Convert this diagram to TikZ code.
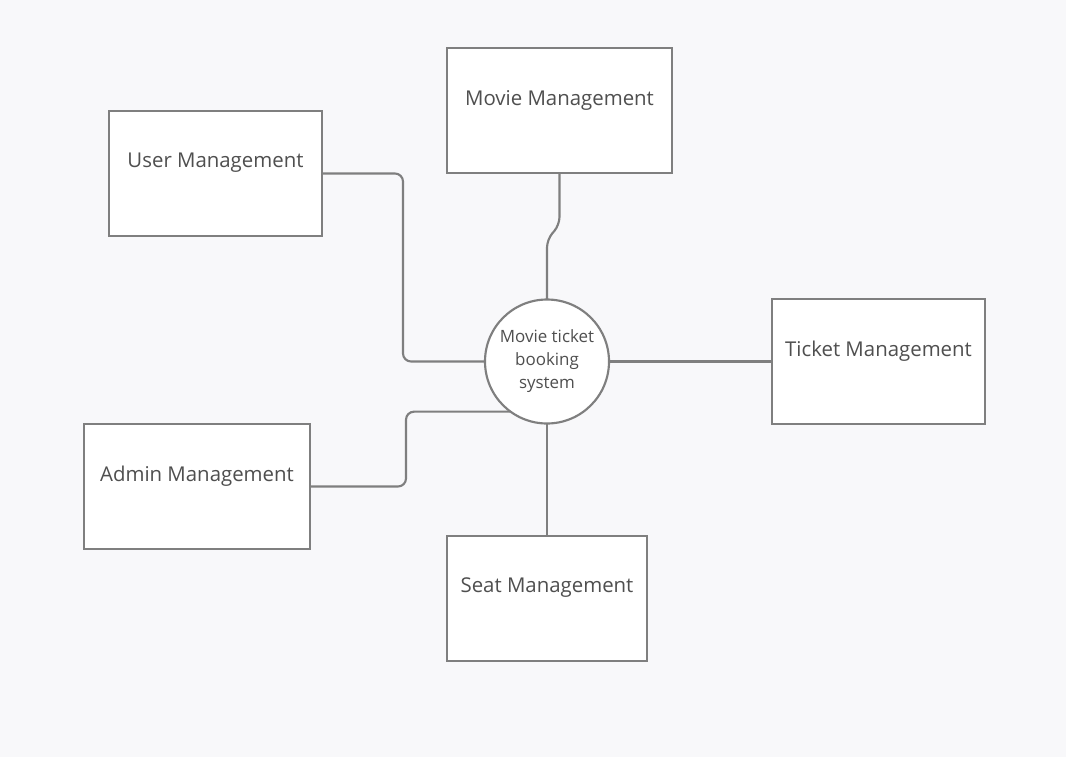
\documentclass[tikz,border=0pt]{standalone}
\usepackage{fontspec}
\setmainfont{Open Sans}
\usepackage{tikz}
\usetikzlibrary{calc}
\definecolor{bggray}{HTML}{F8F8FA}
\definecolor{linegray}{HTML}{7F7F7F}
\definecolor{txtgray}{HTML}{4F4F4F}

\begin{document}
\begin{tikzpicture}[x=0.75pt, y=-0.75pt,
    box/.style={draw=linegray, fill=white, line width=1.6pt, anchor=north west,
        minimum height=93.75pt, inner sep=0pt, outer sep=0pt},
    lbl/.style={text=txtgray, font=\fontsize{15.3}{18}\selectfont, inner sep=0pt},
    hubstyle/.style={circle, draw=linegray, fill=white, line width=1.6pt,
        minimum size=93pt, inner sep=0pt, outer sep=0pt, align=center, text=txtgray,
        font=\fontsize{12.7}{17.25}\selectfont},
    conn/.style={draw=linegray, line width=1.6pt, rounded corners=6pt}]

    \fill[bggray] (0,0) rectangle (1066,757);
    \useasboundingbox (0,0) rectangle (1066,757);

    \node[box, minimum width=159.75pt] (user) at (109,111) {};
    \node[box, minimum width=168.75pt] (movie) at (447,48) {};
    \node[box, minimum width=159.75pt] (ticket) at (772,299) {};
    \node[box, minimum width=169.5pt] (admin) at (84,424) {};
    \node[box, minimum width=150pt] (seat) at (447,536) {};

    \node[lbl] (usertxt) at ($(user.north)+(0,52)$) {User Management};
    \node[lbl] (movietxt) at ($(movie.north)+(0,52)$) {Movie Management};
    \node[lbl] (tickettxt) at ($(ticket.north)+(0,52)$) {Ticket Management};
    \node[lbl] (admintxt) at ($(admin.north)+(0,52)$) {Admin Management};
    \node[lbl] (seattxt) at ($(seat.north)+(0,52)$) {Seat Management};

    \node[hubstyle] (hub) at (547,361.5) {Movie ticket\\booking\\system};

    \coordinate (ubend) at (403,300);
    \coordinate (abend) at (406,450);
    \coordinate (m1) at ($(movie.south)+(0,52)$);
    \coordinate (m2) at ($(hub.north)+(0,-60)$);

    \draw[conn] (user.east) -| (ubend) |- (hub.west);
    \draw[conn] (movie.south) -- (m1) -- (m2) -- (hub.north);
    \draw[conn] (hub.east) -- (ticket.west);
    \draw[conn] (admin.east) -| (abend) |- (hub.234);
    \draw[conn] (hub.south) -- (seat.north);
\end{tikzpicture}
\end{document}
